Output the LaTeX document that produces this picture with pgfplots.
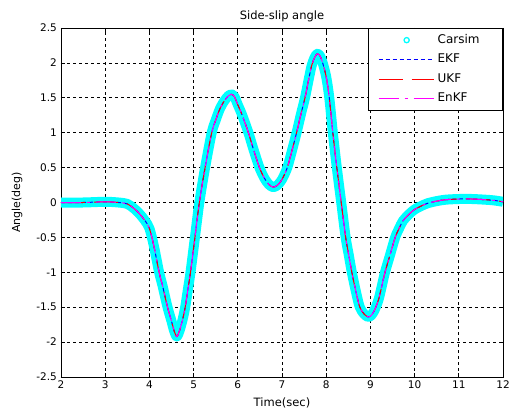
\documentclass[border=0pt]{standalone}
\usepackage{fontspec}
\setmainfont{DejaVu Sans}
\usepackage{pgfplots}
\usepackage{pgfplotstable}
\pgfplotsset{compat=1.18}
\definecolor{cya}{RGB}{0,255,255}
\definecolor{mblue}{RGB}{0,0,255}
\definecolor{mred}{RGB}{255,0,0}
\definecolor{mmag}{RGB}{255,0,255}

\pgfplotstableread{
t y
2.0 0.00
2.5 0.00
3.0 0.01
3.3 0.00
3.5 -0.02
3.64 -0.08
3.76 -0.15
3.9 -0.26
4.0 -0.37
4.1 -0.62
4.22 -1.00
4.3 -1.20
4.41 -1.50
4.5 -1.70
4.56 -1.84
4.62 -1.92
4.68 -1.84
4.75 -1.68
4.81 -1.50
4.87 -1.25
4.93 -1.00
5.03 -0.50
5.13 0.00
5.26 0.50
5.41 1.00
5.5 1.18
5.6 1.35
5.7 1.46
5.79 1.53
5.85 1.55
5.92 1.52
6.0 1.40
6.1 1.25
6.24 1.00
6.35 0.77
6.49 0.50
6.6 0.35
6.7 0.26
6.8 0.22
6.9 0.25
7.0 0.33
7.12 0.50
7.22 0.73
7.33 1.00
7.43 1.27
7.52 1.50
7.6 1.75
7.67 1.96
7.74 2.08
7.8 2.13
7.86 2.10
7.92 2.00
8.0 1.80
8.07 1.50
8.15 1.00
8.24 0.50
8.34 0.00
8.44 -0.50
8.51 -0.75
8.58 -1.00
8.67 -1.27
8.76 -1.50
8.86 -1.60
8.95 -1.64
9.0 -1.63
9.08 -1.56
9.18 -1.40
9.25 -1.22
9.33 -1.00
9.45 -0.74
9.56 -0.50
9.65 -0.37
9.74 -0.26
9.87 -0.17
10.0 -0.10
10.15 -0.05
10.3 -0.01
10.5 0.02
10.7 0.04
11.0 0.05
11.3 0.05
11.6 0.04
11.8 0.03
12.0 0.01
}\datatable

\newcommand{\dsh}[1]{\rule{#1}{1pt}}
\tikzset{
  legnode/.style={inner sep=0pt, outer sep=0pt, text height=1pt, text depth=0pt, anchor=west},
}
\pgfplotsset{
  carsimlegend/.style={legend image code/.code={\path[draw=none, fill=none] (-10pt,0) -- (55pt,0); \draw[draw=cya, line width=1.3pt, solid] (28pt,0) circle (2.6pt);}},
  ekflegend/.style={legend image code/.code={\path[draw=none, fill=none] (-10pt,0) -- (55pt,0);
    \node[legnode] at (0pt,0pt) {\textcolor{mblue}{\dsh{4pt}\hspace{3pt}\dsh{4pt}\hspace{3pt}\dsh{4pt}\hspace{3pt}\dsh{4pt}\hspace{3pt}\dsh{4pt}\hspace{3pt}\dsh{4pt}\hspace{3pt}\dsh{4pt}\hspace{3pt}\dsh{4pt}}};}},
  ukflegend/.style={legend image code/.code={\path[draw=none, fill=none] (-10pt,0) -- (55pt,0);
    \node[legnode] at (0pt,0pt) {\textcolor{mred}{\dsh{24pt}\hspace{9pt}\dsh{22pt}}};}},
  enkflegend/.style={legend image code/.code={\path[draw=none, fill=none] (-10pt,0) -- (55pt,0);
    \node[legnode] at (0pt,0pt) {\textcolor{mmag}{\dsh{20pt}\hspace{6pt}\dsh{3pt}\hspace{6pt}\dsh{20pt}}};}},
  every axis title/.style={at={(axis description cs:0.5,1.034)}, anchor=center, inner sep=0pt},
}

\begin{document}
\begin{tikzpicture}
\useasboundingbox (-61pt,-35pt) rectangle (453pt,377pt);
\begin{axis}[
  at={(0,0)}, anchor=south west,
  scale only axis,
  width=442pt, height=349pt,
  xmin=2, xmax=12, ymin=-2.5, ymax=2.5,
  xtick={2,3,...,12},
  ytick={-2.5,-2,-1.5,-1,-0.5,0,0.5,1,1.5,2,2.5},
  /pgf/number format/assume math mode=true,
  tick label style={font=\fontsize{10.5}{12}\selectfont, inner sep=0pt},
  yticklabel style={xshift=-4pt},
  xticklabel style={yshift=-4pt},
  tick align=inside,
  major tick length=4pt,
  tick style={black, line width=0.7pt},
  axis line style={black, line width=0.9pt},
  grid=major,
  major grid style={black, line width=0.7pt, dash pattern=on 3pt off 3pt},
  title={Side-slip angle},
  title style={font=\fontsize{11.5}{13}\selectfont},
  xlabel={Time(sec)},
  xlabel style={at={(axis description cs:0.5,-0.0745)}, anchor=center, inner sep=0pt, font=\fontsize{11.5}{13}\selectfont},
  ylabel={Angle(deg)},
  ylabel style={at={(axis description cs:-0.0995,0.5)}, anchor=center, inner sep=0pt, font=\fontsize{11}{13}\selectfont},
  legend style={at={(1,1)}, anchor=north east, draw=black, line width=0.8pt, fill=white,
    font=\fontsize{12}{14}\selectfont, inner xsep=0pt, inner ysep=6pt,
    row sep=8pt, column sep=4pt, nodes={inner sep=0pt, text height=9pt, text depth=2.5pt}},
  legend cell align=left,
]
\addplot[cya, line width=10pt, smooth, tension=0.5, line join=round, carsimlegend]
  table[x=t, y=y] {\datatable};
\addlegendentry{Carsim\hspace*{23pt}}
\addplot[mblue, line width=1pt, smooth, tension=0.5, dash pattern=on 4pt off 3pt, ekflegend]
  table[x=t, y=y] {\datatable};
\addlegendentry{EKF}
\addplot[mred, line width=1pt, smooth, tension=0.5, dash pattern=on 24pt off 9pt, ukflegend]
  table[x=t, y=y] {\datatable};
\addlegendentry{UKF}
\addplot[mmag, line width=1pt, smooth, tension=0.5, dash pattern=on 20pt off 6pt on 3pt off 6pt, enkflegend]
  table[x=t, y=y] {\datatable};
\addlegendentry{EnKF}
\end{axis}
\end{tikzpicture}
\end{document}
